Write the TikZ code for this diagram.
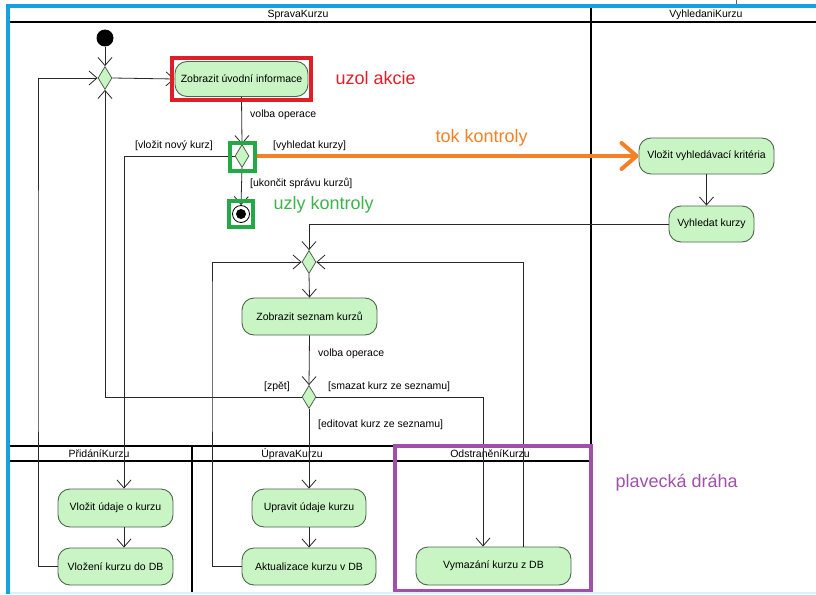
\documentclass[tikz,border=0pt]{standalone}
\usepackage{fontspec}
\setmainfont{Liberation Sans}
\usetikzlibrary{arrows.meta,shapes.geometric,calc}

\definecolor{actfill}{RGB}{200,245,195}
\definecolor{actborder}{RGB}{80,100,80}
\definecolor{flowcol}{RGB}{40,40,40}
\definecolor{framecol}{RGB}{20,160,225}
\definecolor{faintcol}{RGB}{215,242,250}
\definecolor{markred}{RGB}{225,30,40}
\definecolor{markgreen}{RGB}{35,170,70}
\definecolor{textgreen}{RGB}{60,180,75}
\definecolor{markorange}{RGB}{245,128,37}
\definecolor{markpurple}{RGB}{160,80,168}

\begin{document}
\begin{tikzpicture}[x=1pt,y=-1pt,
  small/.style={font=\fontsize{10.5}{12}\selectfont},
  big/.style={font=\fontsize{18}{21}\selectfont},
  act/.style={draw=actborder, fill=actfill, line width=0.9pt,
    rounded corners=12pt, inner sep=0pt, small},
  merge/.style={diamond, draw=actborder, fill=actfill, line width=0.8pt,
    inner sep=0pt, minimum width=14pt, minimum height=23pt},
  startnode/.style={circle, fill=black, inner sep=0pt, minimum size=17pt},
  endnode/.style={circle, draw=black, fill=white, line width=0.8pt,
    inner sep=0pt, minimum size=17pt,
    path picture={\fill[black] (path picture bounding box.center) circle (5pt);}},
  flow/.style={draw=flowcol, line width=0.8pt,
    -{Straight Barb[length=8pt,width=14pt,line width=0.8pt]}},
  lane/.style={draw=black, line width=2pt},
  guard/.style={small, inner sep=0pt},
  lanetitle/.style={small, inner sep=0pt}
]
\useasboundingbox (0,0) rectangle (816,594);

% ---------- swimlane grid ----------
\draw[lane] (10,22) -- (816,22);
\draw[lane, line width=2.5pt] (591,8) -- (591,594);
\draw[lane] (10,446) -- (591,446);
\draw[lane] (10,461) -- (591,461);
\draw[lane] (192,446) -- (192,594);
\draw[lane] (395,446) -- (395,594);

\node[lanetitle] (tSprava) at (298,15) {SpravaKurzu};
\node[lanetitle] (tVyhl) at (706,15) {VyhledaniKurzu};
\node[lanetitle] (tPrid) at (99,454) {PřidáníKurzu};
\node[lanetitle] (tUpr) at (292,454) {ÚpravaKurzu};
\node[lanetitle] (tOdst) at (490,454) {OdstraněníKurzu};

% ---------- nodes ----------
\node[startnode] (init) at (105,38) {};
\node[merge] (m1) at (105,78) {};
\node[act, minimum width=133pt, minimum height=35pt] (a1) at (241.5,79) {Zobrazit úvodní informace};
\node[merge] (d2) at (242,156) {};
\node[endnode] (fin) at (241,214) {};

\node[act, minimum width=135pt, minimum height=36pt] (k1) at (706.5,156) {Vložit vyhledávací kritéria};
\node[act, minimum width=85pt, minimum height=36pt] (k2) at (711.5,224) {Vyhledat kurzy};

\node[merge] (m3) at (309,262) {};
\node[act, minimum width=135pt, minimum height=37pt] (s1) at (309.5,316.5) {Zobrazit seznam kurzů};
\node[merge] (d4) at (309,397) {};

\node[act, minimum width=115pt, minimum height=38pt] (v1) at (115.5,508) {Vložit údaje o kurzu};
\node[act, minimum width=115pt, minimum height=37pt] (v2) at (115.5,566.5) {Vložení kurzu do DB};
\node[act, minimum width=114pt, minimum height=38pt] (u1) at (309,508) {Upravit údaje kurzu};
\node[act, minimum width=134pt, minimum height=37pt] (u2) at (309,566.5) {Aktualizace kurzu v DB};
\node[act, minimum width=155pt, minimum height=38pt] (del) at (493.5,566) {Vymazání kurzu z DB};

% ---------- control flows ----------
\draw[flow] (init) -- (m1.north);
\draw[flow] (m1.east) -- (a1.west);
\draw[flow] (a1.south) -- (d2.north);
\draw[flow] (d2.west) -| ([xshift=8.5pt]v1.north);
\draw[flow] (d2.south) -- (fin.north);
\draw[flow] (k1.south) -- (k1.south |- k2.north);
\draw[flow] (k2.west) -| (m3.north);
\draw[flow] (m3.south) -- (s1.north);
\draw[flow] (s1.south) -- (d4.north);
\draw[flow] (d4.west) -| (m1.south);
\draw[flow] (d4.east) -| ([xshift=-10.5pt]del.north);
\draw[flow] (d4.south) -- (u1.north);
\draw[flow] (u1.south) -- (u2.north);
\draw[flow] ([xshift=8.5pt]v1.south) -- ([xshift=8.5pt]v2.north);
\draw[flow] (u2.west) -| (212,300) |- (m3.west);
\draw[flow] ([xshift=29.5pt]del.north) |- (m3.east);
\draw[flow] (v2.west) -| (38,300) |- (m1.west);

% ---------- guards ----------
\node[guard, anchor=west] (g1) at (250,115) {volba operace};
\node[guard, anchor=east] (g2) at (213,146) {[vložit nový kurz]};
\node[guard, anchor=west] (g3) at (273,146) {[vyhledat kurzy]};
\node[guard, anchor=west] (g4) at (250,183) {[ukončit správu kurzů]};
\node[guard, anchor=west] (g5) at (318,354) {volba operace};
\node[guard, anchor=east] (g6) at (290,387) {[zpět]};
\node[guard, anchor=west] (g7) at (328,387) {[smazat kurz ze seznamu]};
\node[guard, anchor=west] (g8) at (318,425) {[editovat kurz ze seznamu]};

% ---------- highlights ----------
\draw[markred, line width=4pt] (a1.north west) ++(-3,-3) rectangle ($(a1.south east)+(3,3)$);
\draw[markgreen, line width=4pt] ($(d2.center)+(-12.5,-13.5)$) rectangle ($(d2.center)+(12.5,14.5)$);
\draw[markgreen, line width=4pt] ($(fin.center)+(-12,-13)$) rectangle ($(fin.center)+(12,13)$);
\draw[markpurple, line width=3.5pt] (395,446) rectangle (591,591);
\draw[markorange, line width=4pt,
  -{Straight Barb[length=15pt,width=26pt,round]}] ([xshift=15pt]d2.center) -- (k1.west);

\node[big, text=markred, anchor=west] (lAkce) at (332,78) {uzol akcie};
\node[big, text=markorange, anchor=west] (lTok) at (432,138) {tok kontroly};
\node[big, text=textgreen, anchor=west] (lUzly) at (270,205) {uzly kontroly};
\node[big, text=markpurple, anchor=west] (lDraha) at (612,483) {plavecká dráha};

% ---------- frame ----------
\draw[framecol, line width=4pt] (6,6) -- (816,6);
\draw[framecol, line width=4pt] (8,4) -- (8,594);
\draw[faintcol, line width=1.5pt] (10,593) -- (816,593);
\draw[black!60, line width=0.6pt] (736,0) -- (736,4);
\end{tikzpicture}
\end{document}
